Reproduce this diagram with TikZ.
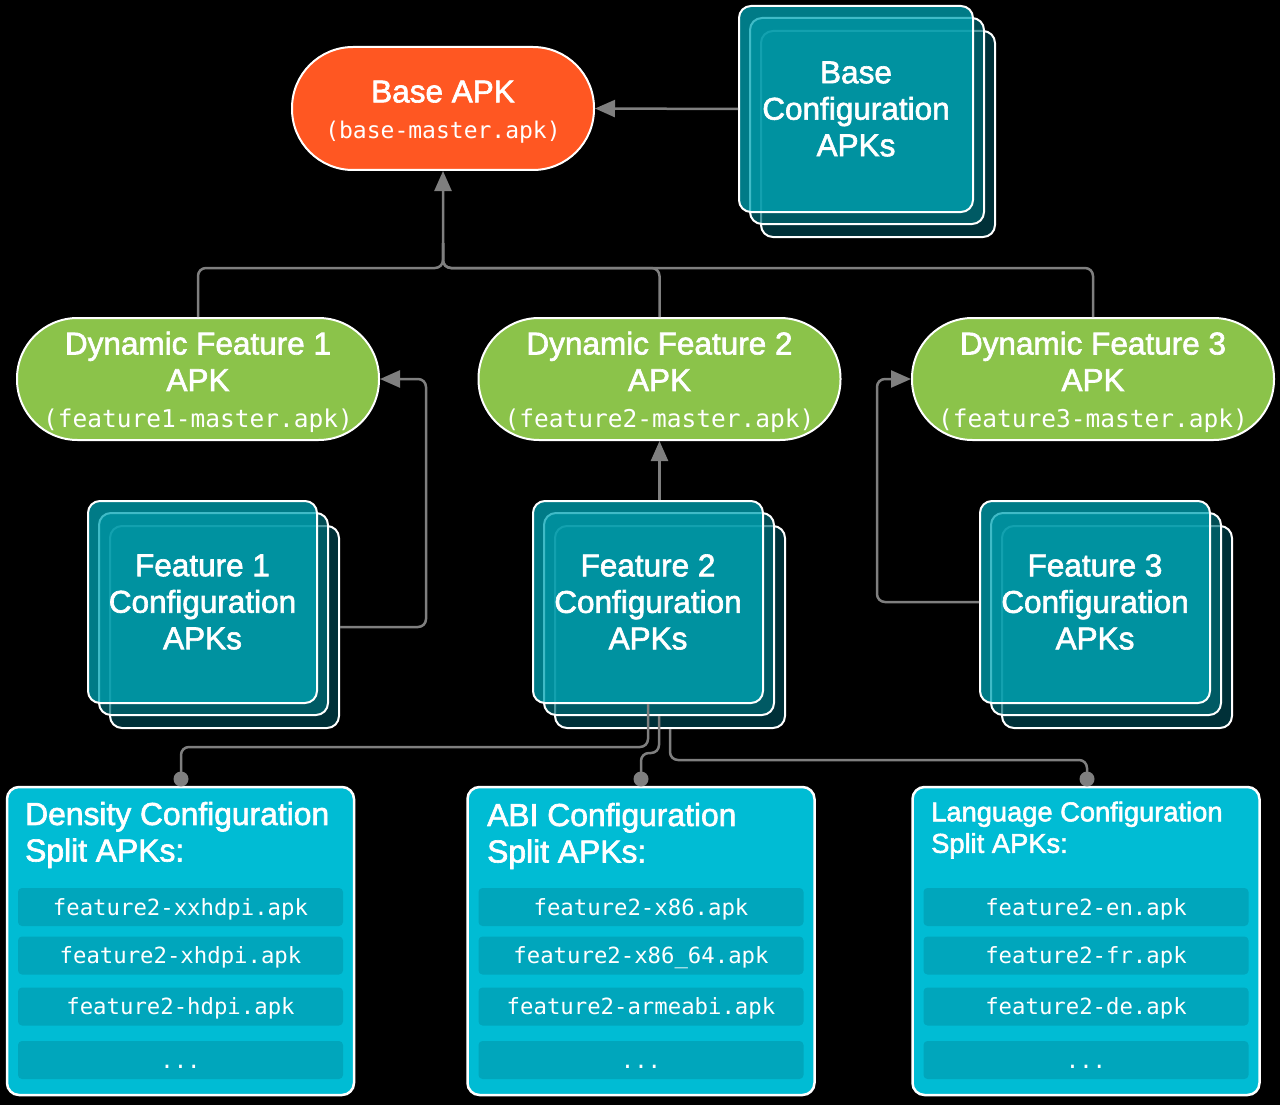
\documentclass[tikz,border=0pt]{standalone}
\usepackage{fontspec}
\setmainfont{Liberation Sans}
\newfontfamily\medfont{Liberation Sans}[FakeBold=2]
\newfontfamily\monofont{DejaVu Sans Mono}
\usetikzlibrary{arrows.meta}
\definecolor{baseorange}{HTML}{FF5722}
\definecolor{featgreen}{HTML}{8BC34A}
\definecolor{stkfront}{HTML}{00A5B5}
\definecolor{stkmid}{HTML}{006D78}
\definecolor{stkback}{HTML}{003038}
\definecolor{splitcyan}{HTML}{00BCD4}
\definecolor{rowcyan}{HTML}{00A6BC}
\definecolor{conncol}{HTML}{7F7F7F}
\newcommand\cfgstack[6]{%
  \node[stkbox, fill=stkback, minimum width=#4pt, minimum height=#5pt] (#1-back) at (#2+22,#3+26) {};
  \node[stkbox, fill=stkmid, fill opacity=0.7, minimum width=#4pt, minimum height=#5pt] (#1-mid) at (#2+11,#3+13) {};
  \node[stkbox, fill=stkfront, fill opacity=0.75, text opacity=1, minimum width=#4pt, minimum height=#5pt, bigtxt, align=center] (#1-front) at (#2,#3+1) {#6};
}
\newcommand\firstline{\rule{0pt}{29pt}}
\begin{document}
\begin{tikzpicture}[x=1pt,y=-1pt,
  bigtxt/.style={font=\medfont\fontsize{31.5}{36.5}\selectfont, text=white},
  pill/.style={rectangle, rounded corners=60.5pt, draw=white, line width=2pt, inner sep=0pt, align=center, text=white, minimum width=362pt, minimum height=122pt, fill=featgreen, bigtxt},
  stkbox/.style={draw=white, line width=2pt, rounded corners=12pt, inner sep=0pt},
  splitbox/.style={draw=white, line width=2.5pt, rounded corners=12pt, fill=splitcyan, minimum width=347pt, minimum height=308pt, inner sep=0pt},
  rowbox/.style={fill=rowcyan, rounded corners=4pt, minimum width=325pt, minimum height=38pt, inner sep=0pt, text=white, text height=18pt, text depth=2pt, font=\monofont\fontsize{22.3}{26}\selectfont},
  titletxt/.style={anchor=west, align=left, text=white, inner sep=0pt, font=\medfont\fontsize{31.8}{36.5}\selectfont},
  conn/.style={draw=conncol, line width=2.5pt, rounded corners=8pt},
  arr/.style={-{Triangle[length=20pt,width=17pt]}},
  dot/.style={circle, fill=conncol, minimum size=15pt, inner sep=0pt}
]
\fill[black] (0,0) rectangle (1280,1105);
\useasboundingbox (0,0) rectangle (1280,1105);

% Base APK
\node[pill, fill=baseorange, minimum width=302pt, minimum height=123pt, rounded corners=61pt] (base) at (443,108.5)
  {\firstline Base APK\\\monofont\fontsize{23}{36}\selectfont (base-master.apk)};

% Stacks
\cfgstack{bcfg}{856}{108}{234}{206}{Base\\Configuration\\APKs}
\cfgstack{f1c}{202.5}{601}{229}{202}{Feature 1\\Configuration\\APKs}
\cfgstack{f2c}{648}{601}{230}{202}{Feature 2\\Configuration\\APKs}
\cfgstack{f3c}{1095}{601}{230}{202}{Feature 3\\Configuration\\APKs}

% Dynamic features
\node[pill] (df1) at (198,379) {\firstline Dynamic Feature 1\\APK\\\monofont\fontsize{24.5}{36.5}\selectfont (feature1-master.apk)};
\node[pill] (df2) at (659.5,379) {\firstline Dynamic Feature 2\\APK\\\monofont\fontsize{24.5}{36.5}\selectfont (feature2-master.apk)};
\node[pill] (df3) at (1093,379) {\firstline Dynamic Feature 3\\APK\\\monofont\fontsize{24.5}{36.5}\selectfont (feature3-master.apk)};

% Split boxes
\node[splitbox] (dens) at (180.5,941) {};
\node[titletxt] (dens-t) at (25,835) {Density Configuration\\Split APKs:};
\node[rowbox] (dens-r1) at (180.5,907) {feature2-xxhdpi.apk};
\node[rowbox] (dens-r2) at (180.5,955.5) {feature2-xhdpi.apk};
\node[rowbox] (dens-r3) at (180.5,1006.5) {feature2-hdpi.apk};
\node[rowbox] (dens-r4) at (180.5,1060) {...};

\node[splitbox] (abi) at (641,941) {};
\node[titletxt] (abi-t) at (487,836) {ABI Configuration\\Split APKs:};
\node[rowbox] (abi-r1) at (641,907) {feature2-x86.apk};
\node[rowbox] (abi-r2) at (641,955.5) {feature2-x86\_64.apk};
\node[rowbox] (abi-r3) at (641,1006.5) {feature2-armeabi.apk};
\node[rowbox] (abi-r4) at (641,1060) {...};

\node[splitbox] (lang) at (1086,941) {};
\node[titletxt, font=\medfont\fontsize{27.3}{31.5}\selectfont] (lang-t) at (931,830) {Language Configuration\\Split APKs:};
\node[rowbox] (lang-r1) at (1086,907) {feature2-en.apk};
\node[rowbox] (lang-r2) at (1086,955.5) {feature2-fr.apk};
\node[rowbox] (lang-r3) at (1086,1006.5) {feature2-de.apk};
\node[rowbox] (lang-r4) at (1086,1060) {...};

% dots
\node[dot] (dot1) at (181,779) {};
\node[dot] (dot2) at (641,779) {};
\node[dot] (dot3) at (1087,779) {};

% connectors
\coordinate (bus) at (443,268);
\draw[conn, arr] (bcfg-front.west) -- (base.east);
\draw[conn, arr] (df1.north) |- (bus) -- (base.south);
\draw[conn] (df2.north) |- (bus) -- ++(0,-25);
\draw[conn] (df3.north) |- (bus) -- ++(0,-25);
\draw[conn, arr] (f1c-back.east) -- ++(86,0) |- (df1.east);
\draw[conn, arr] (f3c-front.west) -- ++(-102,0) |- (df3.west);
\draw[conn, arr] (f2c-front.north -| df2.south) -- (df2.south);
\draw[conn] (f2c-front.south) -- ++(0,43) -| (dot1.center);
\draw[conn] (f2c-mid.south) -- ++(0,37) -| (dot2.center);
\draw[conn] (f2c-back.south) -- ++(0,31) -| (dot3.center);
\end{tikzpicture}
\end{document}
